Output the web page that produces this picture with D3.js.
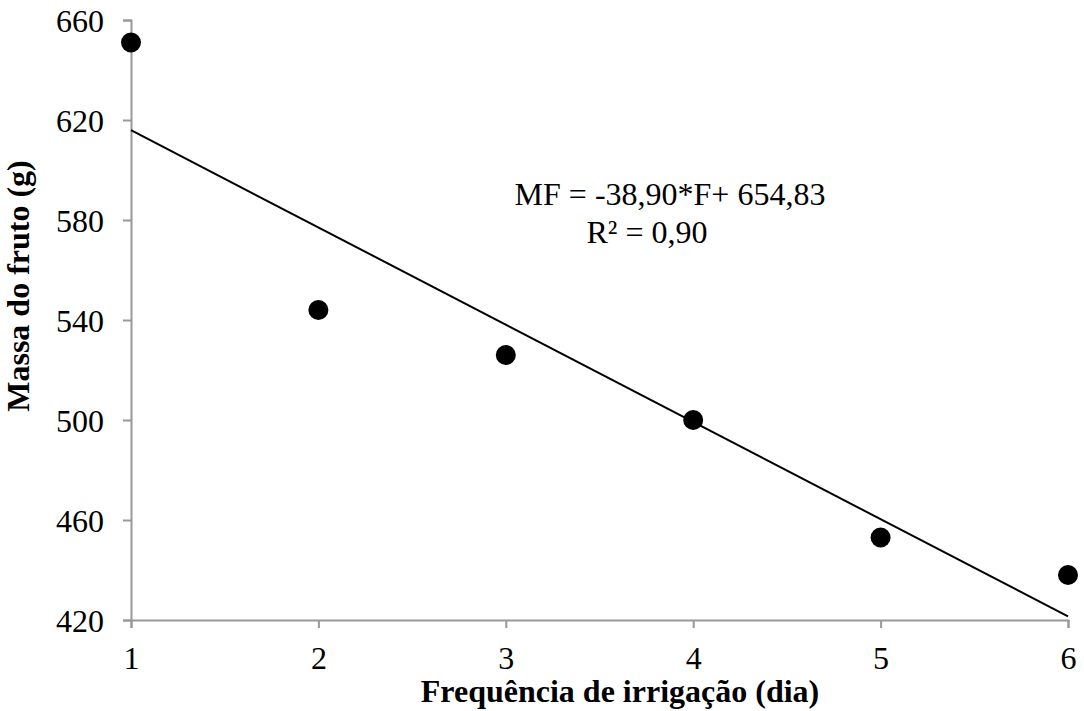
<!DOCTYPE html>
<html>
<head>
<meta charset="utf-8">
<script src="https://cdn.jsdelivr.net/npm/d3@7"></script>
<style>
  body { margin: 0; background: #fff; }
  text { font-family: "Liberation Serif", "Times New Roman", serif; fill: #000; }
</style>
</head>
<body>
<div class="chart"></div>
<script>
var width = 1084,
    height = 711,
    padLeft = 131,
    padRight = 1068,
    padTop = 20,
    padBottom = 620;

var freq = [1, 2, 3, 4, 5, 6];
var massa = [651, 544, 526, 500, 453, 438];
var xTicks = [1, 2, 3, 4, 5, 6];
var yTicks = [420, 460, 500, 540, 580, 620, 660];
var slope = -38.90,
    intercept = 654.83;

var svg = d3.select(".chart").append("svg")
    .attr("width", width)
    .attr("height", height);

var x = d3.scaleLinear().domain([1, 6]).range([padLeft, padRight]);
var y = d3.scaleLinear().domain([420, 660]).range([padBottom, padTop]);

// y axis
var yAxis = svg.append("g")
    .attr("transform", "translate(" + padLeft + ",0)")
    .call(d3.axisLeft(y).tickValues(yTicks).tickFormat(d3.format("d")).tickSize(8).tickPadding(19));

// x axis
var xAxis = svg.append("g")
    .attr("transform", "translate(0," + padBottom + ")")
    .call(d3.axisBottom(x).tickValues(xTicks).tickFormat(d3.format("d")).tickSize(8).tickPadding(18));

svg.selectAll(".tick text").style("font-size", "32px").attr("font-family", null);
yAxis.selectAll("text").attr("dy", "0.35em");

svg.selectAll(".domain, .tick line")
    .attr("stroke", "#989898")
    .attr("stroke-width", 2);

// trend line
svg.append("line")
    .attr("x1", x(1))
    .attr("y1", y(slope * 1 + intercept))
    .attr("x2", x(6))
    .attr("y2", y(slope * 6 + intercept))
    .attr("stroke", "#000")
    .attr("stroke-width", 2);

// points
svg.selectAll("circle.pt")
    .data(freq)
    .enter().append("circle")
    .attr("class", "pt")
    .attr("cx", function(d) { return x(d); })
    .attr("cy", function(d, i) { return y(massa[i]); })
    .attr("r", 10)
    .attr("fill", "#000");

// equation
svg.append("text")
    .attr("x", 670)
    .attr("y", 205)
    .attr("text-anchor", "middle")
    .style("font-size", "32px")
    .text("MF = -38,90*F+ 654,83");
svg.append("text")
    .attr("x", 647)
    .attr("y", 243)
    .attr("text-anchor", "middle")
    .style("font-size", "32px")
    .text("R² = 0,90");

// axis titles
svg.append("text")
    .attr("x", 620)
    .attr("y", 702)
    .attr("text-anchor", "middle")
    .style("font-size", "32px")
    .style("font-weight", "bold")
    .text("Frequência de irrigação (dia)");

svg.append("text")
    .attr("transform", "translate(29,286) rotate(-90)")
    .attr("text-anchor", "middle")
    .style("font-size", "32px")
    .style("font-weight", "bold")
    .text("Massa do fruto (g)");
</script>
</body>
</html>
